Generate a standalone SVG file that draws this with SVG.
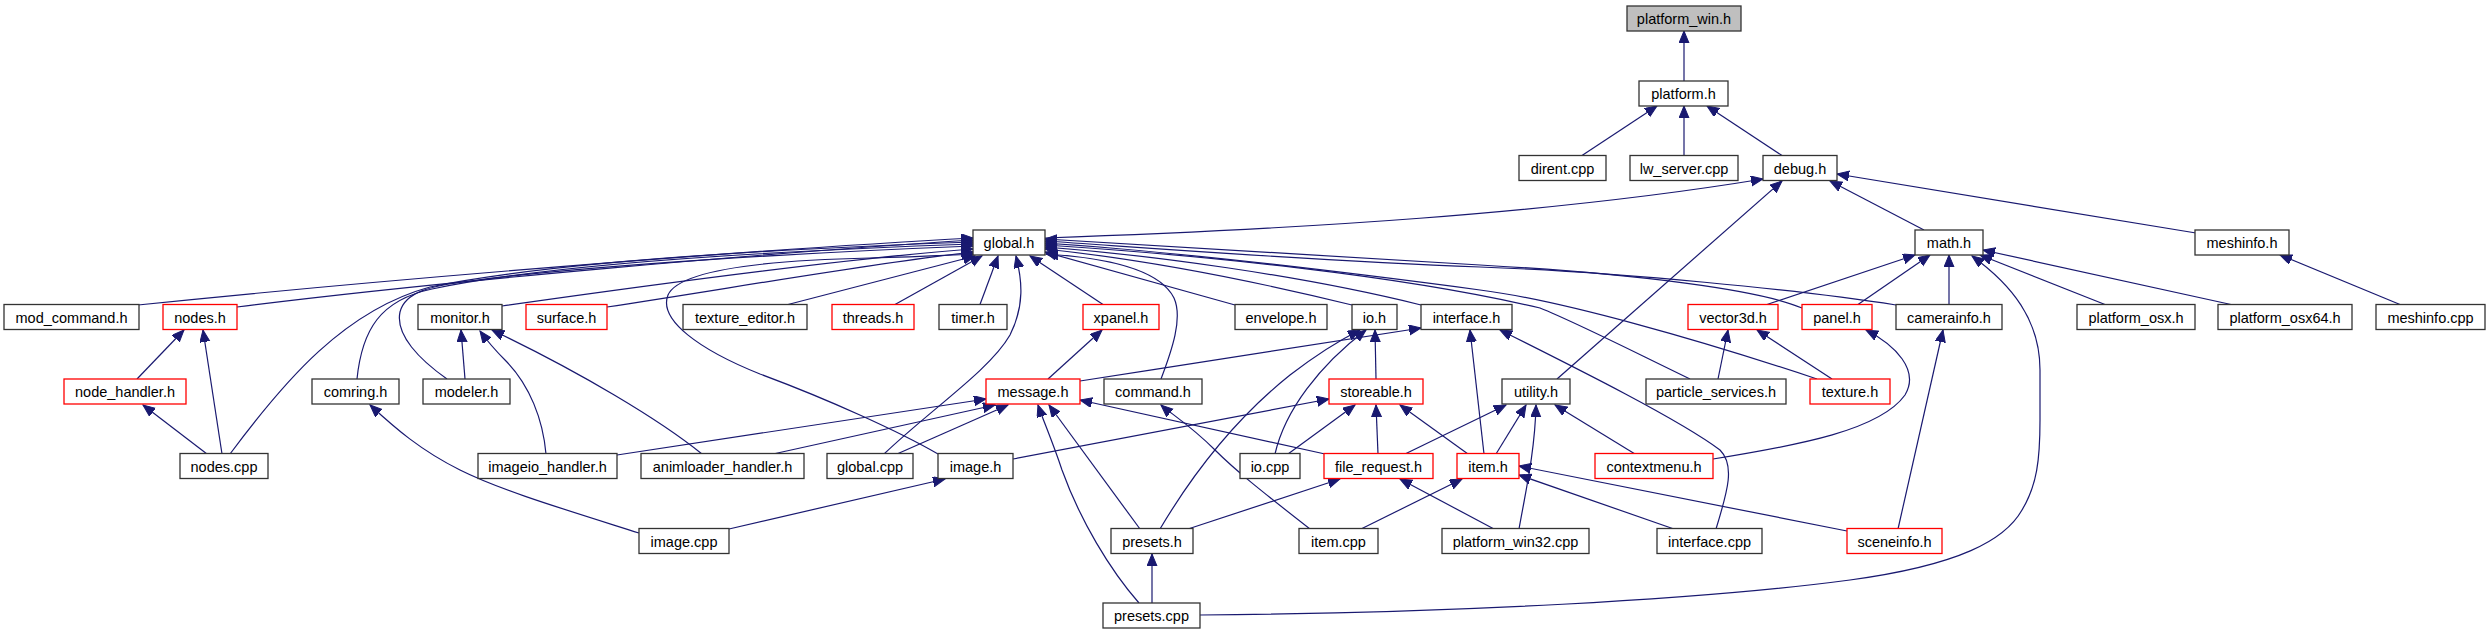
<svg xmlns="http://www.w3.org/2000/svg" width="2489" height="635" viewBox="0 0 2489 635">
<style>
.n rect{fill:#fff;stroke:#333;stroke-width:1.3}
.n.r rect{stroke:#ff0000}
.n.root rect{fill:#bfbfbf}
.n text{font-family:"Liberation Sans",Arial,sans-serif;font-size:14.5px;fill:#000;text-anchor:middle}
#edges path{fill:none;stroke:#191970;stroke-width:1.2;marker-end:url(#ah)}
</style>
<defs>
<marker id="ah" markerUnits="userSpaceOnUse" markerWidth="14" markerHeight="12" refX="12" refY="5" orient="auto">
<path d="M0,0 L12,5 L0,10 z" fill="#191970" stroke="#191970" stroke-width="1"/>
</marker>
</defs>
<rect width="2489" height="635" fill="#fff"/>
<g id="edges">
<path d="M1684,81 L1684,31"/>
<path d="M1582,155.5 L1657,106"/>
<path d="M1684,155.5 L1684,106"/>
<path d="M1782,155.5 L1707,106"/>
<path d="M1045,238 C1300,229 1550,214 1763,179"/>
<path d="M1924,230 L1830,181"/>
<path d="M2196,233 L1837,174"/>
<path d="M1557,379 L1782,181"/>
<path d="M1767,304.5 L1915,255"/>
<path d="M1858,304.5 L1930,255"/>
<path d="M1949,304.5 L1949,255"/>
<path d="M2105,304.5 L1980,255"/>
<path d="M2231,304.5 L1983,250"/>
<path d="M1200,615 C1450,613 1700,600 1850,580 C1960,565 2005,540 2022,510 C2037,485 2040,460 2040,420 L2040,370 C2040,320 2012,285 1972,256"/>
<path d="M2400,304.5 L2280,255"/>
<path d="M138,305 C400,278 750,250 973,238"/>
<path d="M237,307 C450,280 780,252 973,240"/>
<path d="M230,454 C285,380 345,310 430,287 C560,260 800,248 973,242"/>
<path d="M357,379 C362,330 380,300 432,289 C560,262 800,250 973,244"/>
<path d="M447,379 C420,360 395,335 400,312 C405,292 430,286 470,281 C600,264 820,252 973,246"/>
<path d="M502,306 C650,285 850,258 973,249"/>
<path d="M607,307 C720,290 880,262 973,252"/>
<path d="M788,304.5 L975,256"/>
<path d="M895,304.5 L982,256"/>
<path d="M980,304.5 L998,256"/>
<path d="M1103,304.5 L1030,256"/>
<path d="M938,454 C900,432 830,400 760,374 C700,350 658,320 668,295 C680,268 780,260 870,258 C920,257 950,255 974,254"/>
<path d="M884,454 C930,410 990,370 1010,335 C1025,305 1022,280 1016,256"/>
<path d="M1161,379 C1172,350 1183,318 1174,298 C1160,270 1110,258 1046,254"/>
<path d="M1235,305 L1045,252"/>
<path d="M1352,305 C1250,280 1150,260 1045,249"/>
<path d="M1421,305 C1300,275 1150,255 1045,247"/>
<path d="M1690,379 C1620,345 1575,322 1540,308 C1400,275 1200,255 1045,245"/>
<path d="M1817,379 C1700,340 1560,300 1480,290 C1300,266 1150,250 1045,243"/>
<path d="M1896,305 C1800,290 1620,272 1480,267 C1300,260 1150,248 1045,241"/>
<path d="M1802,308 C1760,290 1640,274 1480,265 C1300,254 1150,245 1045,239"/>
<path d="M137,379 L184,330"/>
<path d="M222,454 L203,330"/>
<path d="M207,454 L143,405"/>
<path d="M639,533 C560,508 500,490 460,470 C420,450 395,428 370,405"/>
<path d="M465,379 L461,330"/>
<path d="M546,454 C543,420 530,385 505,360 C495,350 488,342 480,331"/>
<path d="M702,454 C660,420 580,372 492,330"/>
<path d="M1048,379 L1102,330"/>
<path d="M1080,381 C1200,362 1330,343 1421,328"/>
<path d="M617,455 L986,399"/>
<path d="M773,454 L995,405"/>
<path d="M897,454 L1008,405"/>
<path d="M1140,529 L1049,405"/>
<path d="M1139,603 C1110,570 1080,520 1062,470 C1052,440 1043,420 1038,405"/>
<path d="M1325,454 L1080,400"/>
<path d="M1160,529 C1195,470 1240,415 1290,375 C1320,352 1340,340 1360,330"/>
<path d="M1275,454 C1285,410 1320,365 1366,330"/>
<path d="M1376,379 L1375,330"/>
<path d="M1288,454 L1355,405"/>
<path d="M1378,454 L1376,405"/>
<path d="M1468,454 L1400,405"/>
<path d="M1013,459 L1329,399"/>
<path d="M1484,454 L1470,330"/>
<path d="M1716,529 C1728,490 1735,465 1720,450 C1680,420 1580,370 1500,330"/>
<path d="M1405,454 L1506,405"/>
<path d="M1496,454 L1526,405"/>
<path d="M1519,529 C1526,490 1535,450 1536,405"/>
<path d="M1635,454 L1555,405"/>
<path d="M1713,459 C1800,445 1880,430 1905,395 C1920,370 1895,345 1866,330"/>
<path d="M1361,529 L1462,479"/>
<path d="M1310,529 C1260,490 1235,470 1215,450 C1190,425 1170,413 1161,405"/>
<path d="M1494,529 L1400,479"/>
<path d="M1188,529 L1340,479"/>
<path d="M1152,603 L1152,554"/>
<path d="M1847,531 L1519,466"/>
<path d="M1674,529 L1519,475"/>
<path d="M1898,529 L1943,330"/>
<path d="M1832,379 L1757,330"/>
<path d="M1718,379 L1728,330"/>
<path d="M729,529 L945,479"/>
</g>
<g id="platform_win_h" class="n root"><rect x="1627" y="6" width="114" height="25"/><text x="1684" y="24">platform_win.h</text></g>
<g id="platform_h" class="n"><rect x="1639" y="81" width="89" height="25"/><text x="1683.5" y="99">platform.h</text></g>
<g id="dirent_cpp" class="n"><rect x="1519" y="155.5" width="87" height="25"/><text x="1562.5" y="173.5">dirent.cpp</text></g>
<g id="lw_server_cpp" class="n"><rect x="1630" y="155.5" width="108" height="25"/><text x="1684" y="173.5">lw_server.cpp</text></g>
<g id="debug_h" class="n"><rect x="1763" y="155.5" width="74" height="25"/><text x="1800" y="173.5">debug.h</text></g>
<g id="global_h" class="n"><rect x="973" y="230" width="72" height="25"/><text x="1009" y="248">global.h</text></g>
<g id="math_h" class="n"><rect x="1915" y="230" width="68" height="25"/><text x="1949" y="248">math.h</text></g>
<g id="meshinfo_h" class="n"><rect x="2195" y="230" width="94" height="25"/><text x="2242" y="248">meshinfo.h</text></g>
<g id="mod_command_h" class="n"><rect x="4" y="304.5" width="135" height="25"/><text x="71.5" y="322.5">mod_command.h</text></g>
<g id="nodes_h" class="n r"><rect x="163" y="304.5" width="74" height="25"/><text x="200" y="322.5">nodes.h</text></g>
<g id="monitor_h" class="n"><rect x="418" y="304.5" width="84" height="25"/><text x="460" y="322.5">monitor.h</text></g>
<g id="surface_h" class="n r"><rect x="526" y="304.5" width="81" height="25"/><text x="566.5" y="322.5">surface.h</text></g>
<g id="texture_editor_h" class="n"><rect x="683" y="304.5" width="124" height="25"/><text x="745" y="322.5">texture_editor.h</text></g>
<g id="threads_h" class="n r"><rect x="832" y="304.5" width="82" height="25"/><text x="873" y="322.5">threads.h</text></g>
<g id="timer_h" class="n"><rect x="939" y="304.5" width="68" height="25"/><text x="973" y="322.5">timer.h</text></g>
<g id="xpanel_h" class="n r"><rect x="1083" y="304.5" width="76" height="25"/><text x="1121" y="322.5">xpanel.h</text></g>
<g id="envelope_h" class="n"><rect x="1235" y="304.5" width="92" height="25"/><text x="1281" y="322.5">envelope.h</text></g>
<g id="io_h" class="n"><rect x="1352" y="304.5" width="45" height="25"/><text x="1374.5" y="322.5">io.h</text></g>
<g id="interface_h" class="n"><rect x="1421" y="304.5" width="91" height="25"/><text x="1466.5" y="322.5">interface.h</text></g>
<g id="vector3d_h" class="n r"><rect x="1688" y="304.5" width="90" height="25"/><text x="1733" y="322.5">vector3d.h</text></g>
<g id="panel_h" class="n r"><rect x="1802" y="304.5" width="70" height="25"/><text x="1837" y="322.5">panel.h</text></g>
<g id="camerainfo_h" class="n"><rect x="1896" y="304.5" width="106" height="25"/><text x="1949" y="322.5">camerainfo.h</text></g>
<g id="platform_osx_h" class="n"><rect x="2077" y="304.5" width="118" height="25"/><text x="2136" y="322.5">platform_osx.h</text></g>
<g id="platform_osx64_h" class="n"><rect x="2218" y="304.5" width="134" height="25"/><text x="2285" y="322.5">platform_osx64.h</text></g>
<g id="meshinfo_cpp" class="n"><rect x="2376" y="304.5" width="109" height="25"/><text x="2430.5" y="322.5">meshinfo.cpp</text></g>
<g id="node_handler_h" class="n r"><rect x="64" y="379" width="122" height="25"/><text x="125" y="397">node_handler.h</text></g>
<g id="comring_h" class="n"><rect x="312" y="379" width="87" height="25"/><text x="355.5" y="397">comring.h</text></g>
<g id="modeler_h" class="n"><rect x="423" y="379" width="87" height="25"/><text x="466.5" y="397">modeler.h</text></g>
<g id="message_h" class="n r"><rect x="986" y="379" width="94" height="25"/><text x="1033" y="397">message.h</text></g>
<g id="command_h" class="n"><rect x="1104" y="379" width="98" height="25"/><text x="1153" y="397">command.h</text></g>
<g id="storeable_h" class="n r"><rect x="1329" y="379" width="94" height="25"/><text x="1376" y="397">storeable.h</text></g>
<g id="utility_h" class="n"><rect x="1502" y="379" width="68" height="25"/><text x="1536" y="397">utility.h</text></g>
<g id="particle_services_h" class="n"><rect x="1646" y="379" width="140" height="25"/><text x="1716" y="397">particle_services.h</text></g>
<g id="texture_h" class="n r"><rect x="1810" y="379" width="80" height="25"/><text x="1850" y="397">texture.h</text></g>
<g id="nodes_cpp" class="n"><rect x="180" y="453.5" width="88" height="25"/><text x="224" y="471.5">nodes.cpp</text></g>
<g id="imageio_handler_h" class="n"><rect x="478" y="453.5" width="139" height="25"/><text x="547.5" y="471.5">imageio_handler.h</text></g>
<g id="animloader_handler_h" class="n"><rect x="641" y="453.5" width="163" height="25"/><text x="722.5" y="471.5">animloader_handler.h</text></g>
<g id="global_cpp" class="n"><rect x="827" y="453.5" width="86" height="25"/><text x="870" y="471.5">global.cpp</text></g>
<g id="image_h" class="n"><rect x="938" y="453.5" width="75" height="25"/><text x="975.5" y="471.5">image.h</text></g>
<g id="io_cpp" class="n"><rect x="1240" y="453.5" width="60" height="25"/><text x="1270" y="471.5">io.cpp</text></g>
<g id="file_request_h" class="n r"><rect x="1324" y="453.5" width="109" height="25"/><text x="1378.5" y="471.5">file_request.h</text></g>
<g id="item_h" class="n r"><rect x="1457" y="453.5" width="62" height="25"/><text x="1488" y="471.5">item.h</text></g>
<g id="contextmenu_h" class="n r"><rect x="1595" y="453.5" width="118" height="25"/><text x="1654" y="471.5">contextmenu.h</text></g>
<g id="image_cpp" class="n"><rect x="639" y="528.5" width="90" height="25"/><text x="684" y="546.5">image.cpp</text></g>
<g id="presets_h" class="n"><rect x="1111" y="528.5" width="82" height="25"/><text x="1152" y="546.5">presets.h</text></g>
<g id="item_cpp" class="n"><rect x="1299" y="528.5" width="79" height="25"/><text x="1338.5" y="546.5">item.cpp</text></g>
<g id="platform_win32_cpp" class="n"><rect x="1442" y="528.5" width="147" height="25"/><text x="1515.5" y="546.5">platform_win32.cpp</text></g>
<g id="interface_cpp" class="n"><rect x="1657" y="528.5" width="105" height="25"/><text x="1709.5" y="546.5">interface.cpp</text></g>
<g id="sceneinfo_h" class="n r"><rect x="1847" y="528.5" width="95" height="25"/><text x="1894.5" y="546.5">sceneinfo.h</text></g>
<g id="presets_cpp" class="n"><rect x="1103" y="603" width="97" height="25"/><text x="1151.5" y="621">presets.cpp</text></g>
</svg>
